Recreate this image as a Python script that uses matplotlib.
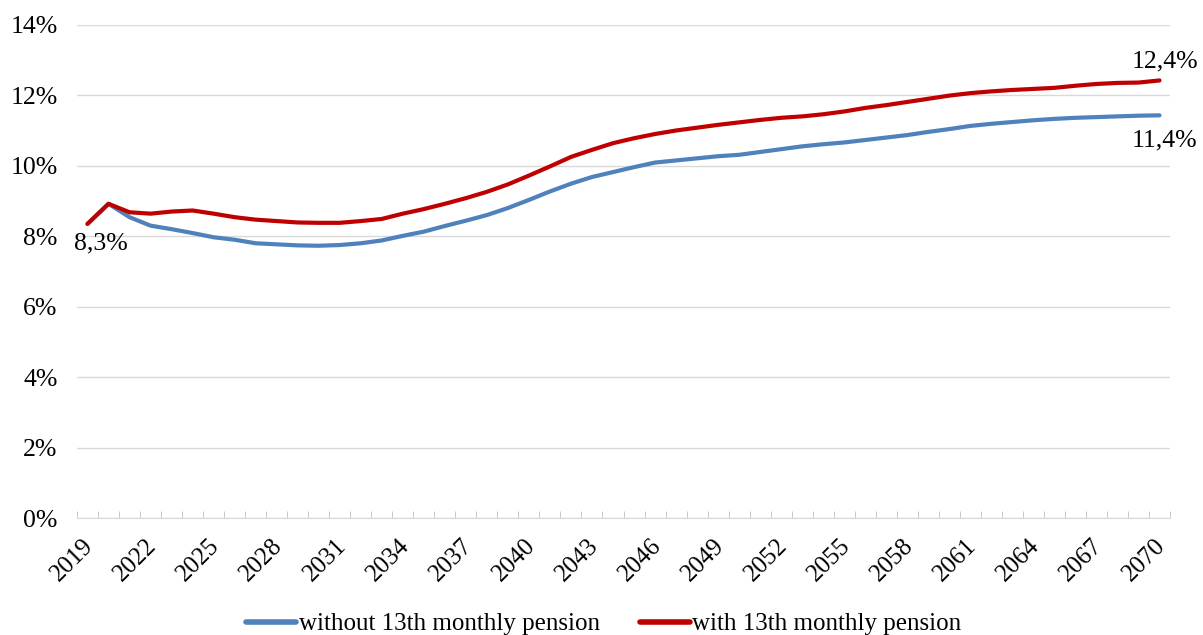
import matplotlib.pyplot as plt
import numpy as np
from matplotlib.ticker import FixedLocator, FuncFormatter
from matplotlib.transforms import ScaledTranslation

years = list(range(2019, 2071))

without_13th = [
    8.35, 8.92, 8.54, 8.30, 8.20, 8.09, 7.97, 7.90, 7.80, 7.77,
    7.74, 7.73, 7.75, 7.80, 7.88, 8.01, 8.13, 8.29, 8.44, 8.60,
    8.80, 9.03, 9.27, 9.49, 9.68, 9.82, 9.96, 10.09, 10.15, 10.21,
    10.27, 10.31, 10.39, 10.47, 10.55, 10.61, 10.66, 10.73, 10.80, 10.87,
    10.96, 11.04, 11.13, 11.19, 11.24, 11.29, 11.33, 11.36, 11.38, 11.40,
    11.42, 11.43,
]
with_13th = [
    8.35, 8.92, 8.68, 8.64, 8.70, 8.73, 8.64, 8.54, 8.47, 8.43,
    8.39, 8.38, 8.38, 8.43, 8.49, 8.64, 8.77, 8.92, 9.08, 9.26,
    9.47, 9.72, 9.98, 10.25, 10.45, 10.64, 10.78, 10.90, 11.00, 11.08,
    11.16, 11.23, 11.30, 11.36, 11.40, 11.46, 11.54, 11.64, 11.72, 11.81,
    11.90, 11.99, 12.06, 12.11, 12.15, 12.18, 12.21, 12.27, 12.32, 12.35,
    12.36, 12.42,
]

label_start = "8,3%"
label_end_with = "12,4%"
label_end_without = "11,4%"

plt.rcParams["font.family"] = ["Liberation Serif", "DejaVu Serif"]

fig = plt.figure(figsize=(12.03, 6.35), dpi=100)
ax = fig.add_axes([0.064, 0.184, 0.9086, 0.777])

x = np.arange(len(years))
ax.plot(x, without_13th, color="#4F81BD", lw=3.0, label="without 13th monthly pension",
        solid_capstyle="round", zorder=3)
ax.plot(x, with_13th, color="#C00000", lw=3.0, label="with 13th monthly pension",
        solid_capstyle="round", zorder=4)

ax.set_xlim(-0.5, len(years) - 0.5)
ax.set_ylim(0, 14)
ax.set_yticks(np.arange(0, 15, 2))
ax.yaxis.set_major_formatter(FuncFormatter(lambda v, _: f"{v:.0f}%"))
ax.grid(axis="y", color="#D9D9D9", lw=1.0)
ax.set_axisbelow(True)

major = list(range(0, len(years), 3))
ax.xaxis.set_major_locator(FixedLocator(major))
ax.set_xticklabels([str(years[i]) for i in major], rotation=45, ha="right",
                   rotation_mode="anchor")
ax.xaxis.set_minor_locator(FixedLocator(np.arange(-0.5, len(years), 1)))
ax.tick_params(axis="x", which="major", length=0, labelsize=18, pad=12)
ax.tick_params(axis="x", which="minor", length=5, color="#BFBFBF", direction="in")
ax.tick_params(axis="y", length=0, labelsize=18.5, pad=14)

# las etiquetas quedan un poco a la izquierda del centro de la categoria
shift = ScaledTranslation(-5 / 100, 0, fig.dpi_scale_trans)
for lbl in ax.get_xticklabels():
    lbl.set_transform(lbl.get_transform() + shift)

for side in ["top", "right", "left"]:
    ax.spines[side].set_visible(False)
ax.spines["bottom"].set_color("#D9D9D9")

ax.annotate(label_start, (x[0], without_13th[0]), xytext=(-10, -14),
            textcoords="offset points", fontsize=18.5, ha="left", va="center")
ax.annotate(label_end_with, (x[-1], with_13th[-1]), xytext=(-20, 14),
            textcoords="offset points", fontsize=18.5, ha="left", va="center")
ax.annotate(label_end_without, (x[-1], without_13th[-1]), xytext=(-20, -18),
            textcoords="offset points", fontsize=18.5, ha="left", va="center")

leg = fig.legend(loc="lower center", bbox_to_anchor=(0.502, -0.036), ncol=2, frameon=False,
                 fontsize=18, handlelength=2.0, handletextpad=0.1, columnspacing=1.6)
for line in leg.get_lines():
    line.set_linewidth(4.0)

fig.savefig("out.png", dpi=100)
